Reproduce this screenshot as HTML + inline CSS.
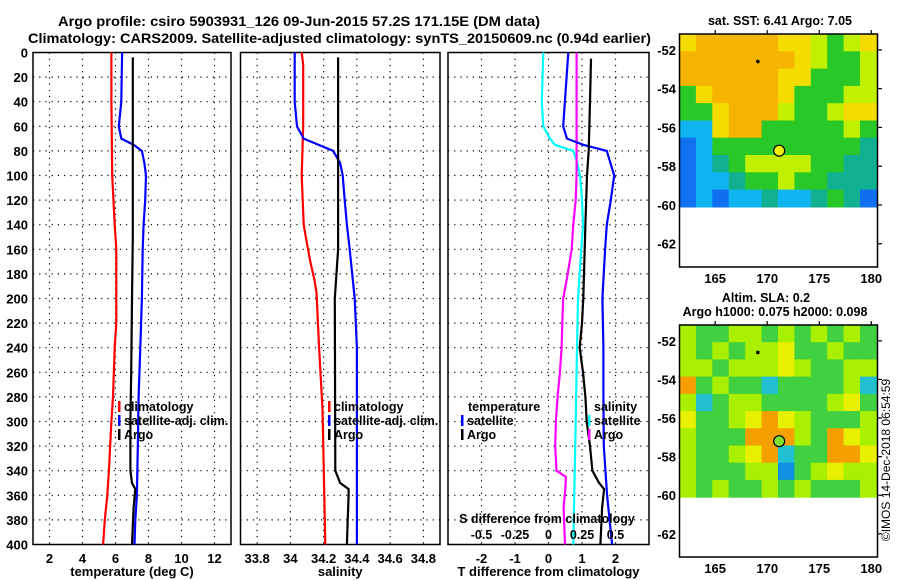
<!DOCTYPE html>
<html><head><meta charset="utf-8"><style>
html,body{margin:0;padding:0;background:#fff;}
svg{display:block;font-family:"Liberation Sans",sans-serif;font-weight:bold;}
</style></head><body>
<svg id="fig" width="900" height="580" viewBox="0 0 900 580" xmlns="http://www.w3.org/2000/svg">
<text x="58" y="26" font-size="14" textLength="482" lengthAdjust="spacingAndGlyphs">Argo profile: csiro 5903931_126 09-Jun-2015 57.2S 171.15E (DM data)</text>
<text x="28" y="43" font-size="14" textLength="623" lengthAdjust="spacingAndGlyphs">Climatology: CARS2009. Satellite-adjusted climatology: synTS_20150609.nc (0.94d earlier)</text>
</svg>
<script>
// ---- Temperature panel data (depth m, deg C)
const tClimDepth=[0,40,100,140,160,220,240,280,300,340,360,380,400];
const tClimVal=[5.75,5.75,5.8,5.95,6.05,6.05,5.95,5.85,5.75,5.6,5.5,5.35,5.25];
const tSatDepth=[0,40,60,70,75,80,90,100,120,140,160,200,240,280,320,360,380,400];
const tSatVal=[6.4,6.35,6.2,6.35,7.1,7.6,7.75,7.85,7.8,7.7,7.65,7.6,7.5,7.4,7.35,7.3,7.2,7.15];
const tArgoDepth=[4,150,200,260,300,340,350,355,370,400];
const tArgoVal=[7.05,7.05,7.0,6.95,6.9,6.9,7.0,7.2,7.1,7.0];
// ---- Salinity panel data
const sClimDepth=[0,10,60,100,140,150,170,185,195,240,290,380,400];
const sClimVal=[34.068,34.077,34.077,34.068,34.08,34.093,34.12,34.145,34.157,34.173,34.193,34.207,34.21];
const sSatDepth=[0,40,60,70,80,90,100,120,140,160,200,240,400];
const sSatVal=[34.026,34.026,34.04,34.08,34.257,34.3,34.315,34.327,34.34,34.357,34.387,34.4,34.4];
const sArgoDepth=[4,160,200,340,350,355,360,380,400];
const sArgoVal=[34.287,34.287,34.267,34.27,34.3,34.35,34.35,34.345,34.34];
// ---- Difference panel data
const dTSatDepth=[0,40,60,70,75,80,100,120,140,160,200,240,280,320,360,400];
const dTSatVal=[0.59,0.49,0.44,0.55,1.04,1.74,1.96,1.86,1.74,1.69,1.61,1.64,1.64,1.65,1.75,1.9];
const dTArgoDepth=[5,40,80,100,140,200,220,240,260,280,300,320,340,350,355,370,400];
const dTArgoVal=[1.27,1.24,1.2,1.15,1.1,1.04,1.0,0.93,1.03,1.1,1.14,1.24,1.31,1.51,1.66,1.6,1.55];
const dSSatDepth=[0,40,60,70,75,80,90,100,120,140,160,200,240,300,400];
const dSSatVal=[-0.039,-0.05,-0.039,0.011,0.048,0.185,0.215,0.235,0.25,0.258,0.245,0.22,0.213,0.203,0.185];
const dSArgoDepth=[0,100,120,140,160,180,200,220,240,260,280,300,320,340,345,355,370,400];
const dSArgoVal=[0.21,0.21,0.203,0.185,0.173,0.143,0.11,0.103,0.098,0.085,0.068,0.055,0.05,0.06,0.13,0.125,0.113,0.123];
// ---- tick labels
const depthTicks=[0,20,40,60,80,100,120,140,160,180,200,220,240,260,280,300,320,340,360,380,400];
const tTicks=[2,4,6,8,10,12];
const sTicks=[33.8,34,34.2,34.4,34.6,34.8];
const sTickLabels=["33.8","34","34.2","34.4","34.6","34.8"];
const dTTicks=[-2,-1,0,1,2];
const dSTicks=[-0.5,-0.25,0,0.25,0.5];
const dSTickLabels=["-0.5","-0.25","0","0.25","0.5"];
const latTicks=[-52,-54,-56,-58,-60,-62];
const lonTicks=[165,170,175,180];
// ---- maps (coarse colour grids, rows from north to south)
const sstGrid=["YOOOOOYYLGLY","OOOOOOOYLGGL","OOOOOOYYGGGL","GYOOOOYGGGLL","GGYOOOLGGLYY","CCYOOGGGGGLG","BCGGGGGGGGGT","BCTGLLLLGGTT","BCCTGGLGGTTT","BCBCCTCCTGTB"];
const slaGrid=["LGGLLGLGLGLG","LGLGLLYGGLGG","LLGLLLYLGGLL","OGLGGCGGGGLC","LCGLLGGGGLYG","YGGLYOYLGGGL","LGGGOOOLGOYL","LGGLYOCGGOOY","LGGGLLBGLYLL","LGLGGLGLGGGL"];
const argoLon=171.15, argoLat=-57.2;

const NS="http://www.w3.org/2000/svg";
const svg=document.getElementById('fig');
function el(tag,attrs,parent){const e=document.createElementNS(NS,tag);for(const k in attrs)e.setAttribute(k,attrs[k]);(parent||svg).appendChild(e);return e;}
const Y0=52.5,Y1=544.5;
function yD(d){return Y0+(d/400)*(Y1-Y0);}
function lin(d0,d1,p0,p1){return v=>p0+(v-d0)/(d1-d0)*(p1-p0);}

function panel(name,x0,x1,xs,xTicks,xLabels,showY,title){
  const g=el('g',{});
  
  
  xTicks.forEach((t,i)=>{const l=el('line',{x1:xs(t),x2:xs(t),y1:Y0,y2:Y1,stroke:'#000','stroke-width':1.2,'stroke-dasharray':'1.2 5'},g);
    
    const tx=el('text',{x:xs(t),y:563,'font-size':13,'text-anchor':'middle'},g);tx.textContent=xLabels[i];
    });
  depthTicks.forEach(d=>{if(d>0&&d<400){const l=el('line',{x1:x0,x2:x1,y1:yD(d),y2:yD(d),stroke:'#000','stroke-width':1.2,'stroke-dasharray':'1.2 5'},g);
    }
    if(showY){const tx=el('text',{x:28,y:yD(d)+5,'font-size':13,'text-anchor':'end'},g);tx.textContent=d;
    }});
  const r=el('rect',{x:x0,y:Y0,width:x1-x0,height:Y1-Y0,fill:'none',stroke:'#000','stroke-width':1.5},g);
  
  const tt=el('text',{x:(x0+x1)/2,y:576,'font-size':13,'text-anchor':'middle'},g);tt.textContent=title;
  
  return g;
}
function curve(g,name,depths,vals,xs,color){
  let p='';depths.forEach((d,i)=>{p+=(i?'L':'M')+xs(vals[i]).toFixed(1)+' '+yD(d).toFixed(1);});
  const c=el('path',{d:p,fill:'none',stroke:color,'stroke-width':2.2},g);
  
}
function legend(g,x,y,color,label,name){
  const b=el('rect',{x:x,y:y-10,width:2.5,height:11,fill:color},g);
  
  const t=el('text',{x:x+6,y:y,'font-size':12.5},g);t.textContent=label;
  
}
// Temperature
const xT=lin(1,13,33,231);
const g1=panel('temperature-panel',33,231,xT,tTicks,tTicks.map(String),true,'temperature (deg C)');
curve(g1,'temp-climatology-line',tClimDepth,tClimVal,xT,'#f00');
curve(g1,'temp-satellite-line',tSatDepth,tSatVal,xT,'#00f');
curve(g1,'temp-argo-line',tArgoDepth,tArgoVal,xT,'#000');
legend(g1,118,411,'#f00','climatology','legend-climatology');
legend(g1,118,425,'#00f','satellite-adj. clim.','legend-satellite');
legend(g1,118,439,'#000','Argo','legend-argo');
// Salinity
const xS=lin(33.7,34.9,240.5,440);
const g2=panel('salinity-panel',240.5,440,xS,sTicks,sTickLabels,false,'salinity');
curve(g2,'sal-climatology-line',sClimDepth,sClimVal,xS,'#f00');
curve(g2,'sal-satellite-line',sSatDepth,sSatVal,xS,'#00f');
curve(g2,'sal-argo-line',sArgoDepth,sArgoVal,xS,'#000');
legend(g2,328,411,'#f00','climatology','legend-climatology');
legend(g2,328,425,'#00f','satellite-adj. clim.','legend-satellite');
legend(g2,328,439,'#000','Argo','legend-argo');
// Differences
const xD=lin(-3,3,448,649);
const xDS=v=>xD(v*4);
const g3=panel('difference-panel',448,649,xD,dTTicks,dTTicks.map(String),false,'T difference from climatology');
curve(g3,'sal-diff-satellite-line',dSSatDepth,dSSatVal,xDS,'#0ff');
curve(g3,'sal-diff-argo-line',dSArgoDepth,dSArgoVal,xDS,'#f0f');
curve(g3,'temp-diff-satellite-line',dTSatDepth,dTSatVal,xD,'#00f');
curve(g3,'temp-diff-argo-line',dTArgoDepth,dTArgoVal,xD,'#000');
{const t=el('text',{x:468,y:411,'font-size':12.5},g3);t.textContent='temperature';
 const s=el('text',{x:594,y:411,'font-size':12.5},g3);s.textContent='salinity';}
legend(g3,461,425,'#00f','satellite','legend-temp-satellite');
legend(g3,461,439,'#000','Argo','legend-temp-argo');
legend(g3,588,425,'#0ff','satellite','legend-sal-satellite');
legend(g3,588,439,'#f0f','Argo','legend-sal-argo');
{const t=el('text',{x:547,y:523,'font-size':12.5,'text-anchor':'middle'},g3);t.textContent='S difference from climatology';
 dSTicks.forEach((v,i)=>{const tx=el('text',{x:xDS(v),y:539,'font-size':12.5,'text-anchor':'middle'},g3);tx.textContent=dSTickLabels[i];});}

// Maps
const palette={O:'#f5b400',Y:'#f5dc00',L:'#c0f000',G:'#28c828',T:'#10b090',C:'#10b4f0',B:'#1070f0'};
const paletteSLA={O:'#f5a000',Y:'#e8f000',L:'#a8f000',G:'#40d040',T:'#10b090',C:'#20c0d0',B:'#1090e0'};
function map(name,top,bottom,grid,pal,dotFill){
  const g=el('g',{});
  
  const xL=lin(161.57,180.6,679.5,877.5);
  const latTop=-51.18,latBot=-63.2;
  const yL=lin(latTop,latBot,top,bottom);
  const lonW=180.5-161.57, rows=grid.length, cols=grid[0].length;
  const latStep=(-60.1-latTop)/rows, lonStep=lonW/cols;
  grid.forEach((row,r)=>{for(let c=0;c<cols;c++){
    const xa=xL(161.57+c*lonStep), xb=xL(161.57+(c+1)*lonStep);
    const ya=yL(latTop+r*latStep), yb=yL(latTop+(r+1)*latStep);
    const cell=el('rect',{x:xa.toFixed(1),y:ya.toFixed(1),width:(xb-xa+0.6).toFixed(1),height:(yb-ya+0.6).toFixed(1),fill:pal[row[c]]},g);
    }});
  const dot=el('circle',{cx:xL(169.1),cy:yL(-52.6),r:1.8,fill:'#000'},g);
  
  const m=el('circle',{cx:xL(argoLon),cy:yL(argoLat),r:5.5,fill:dotFill,stroke:'#000','stroke-width':1.2},g);
  
  const fr=el('rect',{x:679.5,y:top,width:198,height:bottom-top,fill:'none',stroke:'#000','stroke-width':1.5},g);
  
  latTicks.forEach(v=>{const y=yL(v);
    const tk=el('line',{x1:877.5,x2:882,y1:y,y2:y,stroke:'#000','stroke-width':1.2},g);
    const tx=el('text',{x:676,y:y+5,'font-size':13,'text-anchor':'end'},g);tx.textContent=v;});
  lonTicks.forEach(v=>{const x=xL(v);
    const tk=el('line',{x1:x,x2:x,y1:top-4,y2:top,stroke:'#000','stroke-width':1.2},g);
    const tx=el('text',{x:x,y:bottom+16,'font-size':13,'text-anchor':'middle'},g);tx.textContent=v;});
}
map('sst-map',34,267,sstGrid,palette,'#f0f000');
map('sla-map',325,557,slaGrid,paletteSLA,'#80e030');
{const t=el('text',{x:780,y:25,'font-size':12.5,'text-anchor':'middle'});t.textContent='sat. SST: 6.41  Argo: 7.05';
 const a=el('text',{x:766,y:302,'font-size':12.5,'text-anchor':'middle'});a.textContent='Altim. SLA: 0.2';
 const b=el('text',{x:775,y:316,'font-size':12.5,'text-anchor':'middle'});b.textContent='Argo h1000: 0.075 h2000: 0.098';
 const c=el('text',{x:0,y:0,'font-size':12,'font-weight':'normal','text-anchor':'middle',transform:'translate(890,460) rotate(-90)'});c.textContent='©IMOS 14-Dec-2018 06:54:59';}
</script>
</body></html>
